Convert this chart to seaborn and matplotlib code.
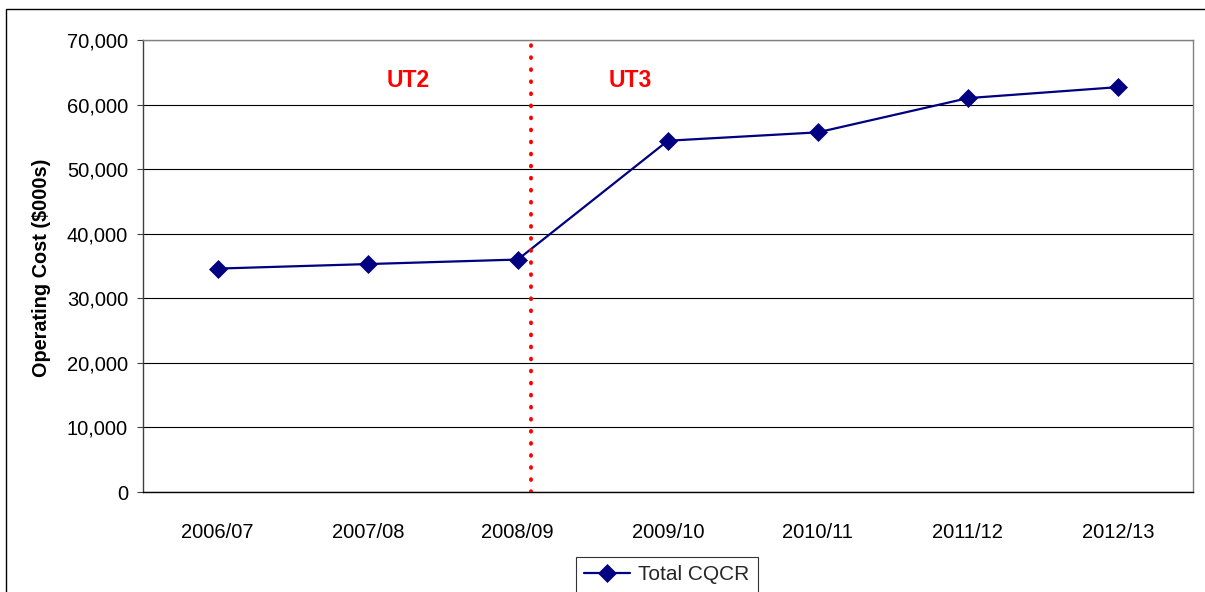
import matplotlib
matplotlib.use("Agg")
import matplotlib.pyplot as plt
import matplotlib.patches as mpatches
import seaborn as sns
import pandas as pd

years = ["2006/07", "2007/08", "2008/09", "2009/10", "2010/11", "2011/12", "2012/13"]
total_cqcr = [34600, 35300, 36000, 54400, 55700, 61000, 62700]
series_name = "Total CQCR"
divider_pos = 2.09
phase_labels = ["UT2", "UT3"]
phase_x = [1.27, 2.75]
phase_y = [63800, 63800]
y_ticks = [0, 10000, 20000, 30000, 40000, 50000, 60000, 70000]

sns.set_theme(style="white")
plt.rcParams["font.family"] = ["Liberation Sans", "DejaVu Sans"]

W, H = 1205, 592
fig = plt.figure(figsize=(W / 100, H / 100), dpi=100)
ax = fig.add_axes([142.7 / W, (H - 492) / H, (1193 - 142.7) / W, 452 / H])

df = pd.DataFrame({"year": years, "cost": total_cqcr})
sns.lineplot(data=df, x="year", y="cost", ax=ax, color="#000080", linewidth=1.6,
             marker="D", markersize=9.5, markeredgecolor="#000080", markeredgewidth=0.5,
             label=series_name, sort=False)

ax.set_xlim(-0.5, len(years) - 0.5)
ax.set_ylim(0, 70000)
ax.set_yticks(y_ticks)
ax.set_yticklabels([f"{v:,}" for v in y_ticks])
ax.yaxis.grid(True, color="black", linewidth=0.8)
ax.xaxis.grid(False)
ax.set_axisbelow(True)

ax.tick_params(axis="y", which="both", left=True, length=4.5, width=0.8, color="#404040",
               pad=6, labelsize=14.5, labelcolor="black")
ax.tick_params(axis="x", bottom=False, pad=16.5, labelsize=14.5, labelcolor="black")

for side in ["top", "right"]:
    ax.spines[side].set_color("#808080")
    ax.spines[side].set_linewidth(1.0)
ax.spines["left"].set_color("#404040")
ax.spines["left"].set_linewidth(1.0)
ax.spines["bottom"].set_color("black")
ax.spines["bottom"].set_linewidth(1.0)

ax.set_xlabel("")
ax.set_ylabel("Operating Cost ($000s)", fontsize=14.3, fontweight="bold", color="black")
ax.yaxis.label.set_va("center")
ax.yaxis.set_label_coords((42 - 142.7) / (1193 - 142.7), 0.495)

ax.axvline(divider_pos, color="red", linewidth=2.8, linestyle=(0, (0.2, 2.9)),
           dash_capstyle="round", zorder=3)

for lab, x, y in zip(phase_labels, phase_x, phase_y):
    ax.text(x, y, lab, color="red", fontsize=16.5, fontweight="bold", ha="center", va="center")

leg = ax.legend(loc="upper center", bbox_to_anchor=(667 / W, (H - 557) / H),
                bbox_transform=fig.transFigure, frameon=True, fancybox=False,
                edgecolor="black", fontsize=15, handlelength=2.2, borderpad=0.4,
                handletextpad=0.4, borderaxespad=0)
leg.get_frame().set_linewidth(0.8)

border = mpatches.Rectangle((6 / W, -0.2), 1.2, (H - 9) / H + 0.2, transform=fig.transFigure,
                            fill=False, edgecolor="black", linewidth=1.0, clip_on=False)
fig.patches.append(border)

fig.savefig("out.png", dpi=100)
